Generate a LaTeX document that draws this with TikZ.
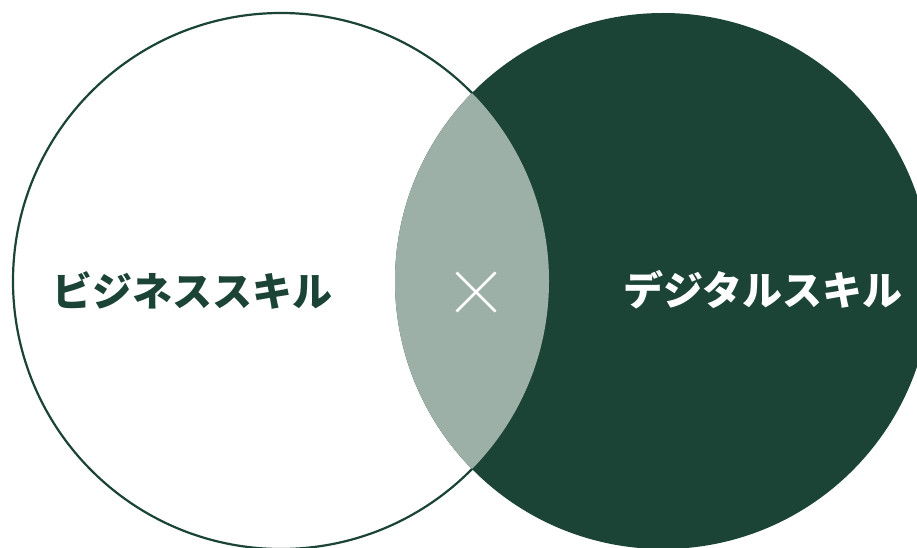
\documentclass[tikz,border=0pt]{standalone}
\usepackage{fontspec}
\usetikzlibrary{calc}
\newfontfamily\jpfont{Noto Sans CJK JP}
\definecolor{darkgreen}{HTML}{1B4436}
\definecolor{mixgreen}{HTML}{9CB0A8}
\tikzset{
  skill/.style={font=\jpfont\bfseries\fontsize{40}{40}\selectfont, inner sep=0pt},
}
\begin{document}
\begin{tikzpicture}[x=1pt,y=1pt]
	\useasboundingbox (0,0) rectangle (917,547);
	% left circle
	\draw[line width=2.2pt][darkgreen][fill=white](281,266) circle [radius=268];
	% right circle
	\fill[darkgreen](663,266) circle [radius=268];
	% overlap
	\begin{scope}
		\clip (281,266) circle [radius=268];
		\fill[mixgreen](663,266) circle [radius=268];
	\end{scope}
	
	\node[skill][text=darkgreen] (business) at (192,257) {ビジネススキル};
	\node[skill][text=white] (digital) at (763,257) {デジタルスキル};
	
	% cross
	\coordinate (cross) at (476,255);
	\draw[line width=2.6pt][white] ($(cross)+(-19.5,19.5)$)--($(cross)+(19.5,-19.5)$);
	\draw[line width=2.6pt][white] ($(cross)+(-19.5,-19.5)$)--($(cross)+(19.5,19.5)$);
\end{tikzpicture}
\end{document}
